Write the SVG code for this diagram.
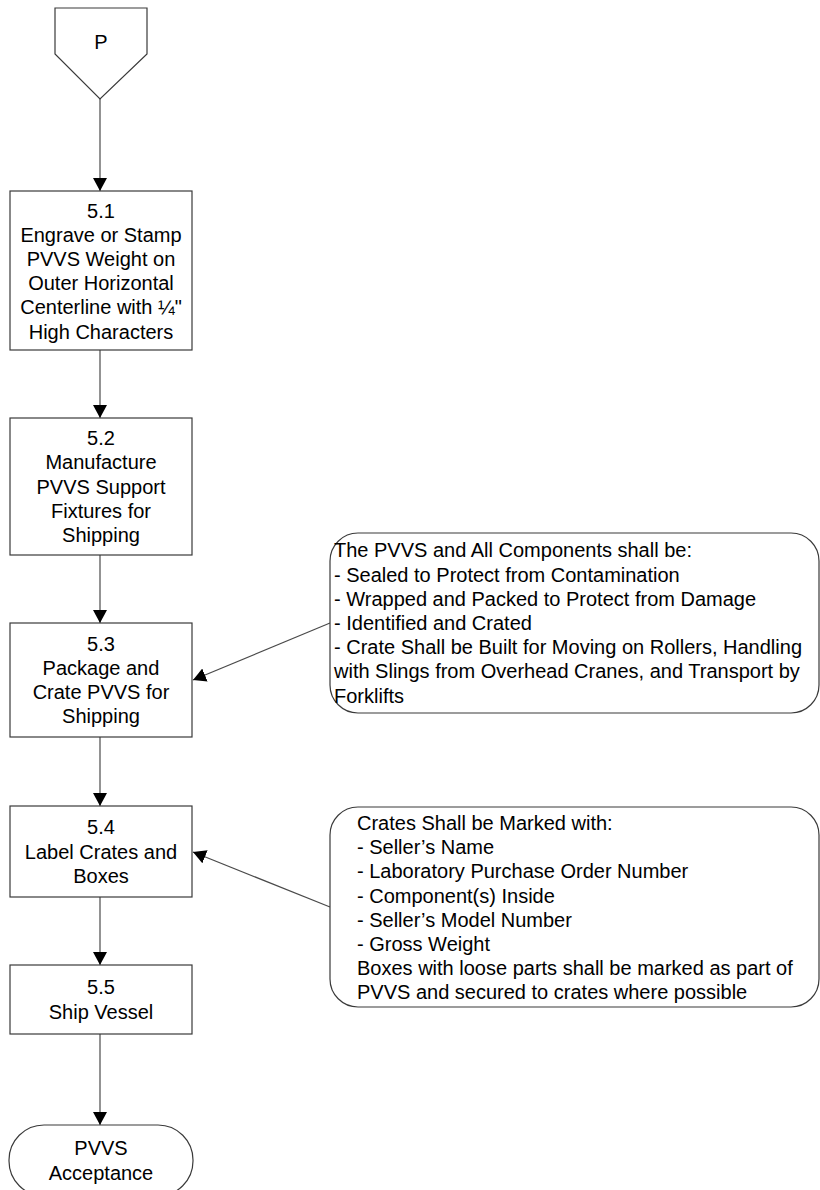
<svg xmlns="http://www.w3.org/2000/svg" width="820" height="1190" viewBox="0 0 820 1190">
<defs>
<style>
.shape{fill:#fff;stroke:#3a3a3a;stroke-width:1.2}
.conn{fill:none;stroke:#4a4a4a;stroke-width:1.2}
.t{font-family:"Liberation Sans",Arial,sans-serif;font-size:20px;fill:#000}
.c{text-anchor:middle}
</style>
<marker id="arr" markerUnits="userSpaceOnUse" markerWidth="14" markerHeight="14" refX="12" refY="6.5" orient="auto" viewBox="0 0 13 13">
<path d="M0,0 L12,6.5 L0,13 z" fill="#000"/>
</marker>
</defs>
<rect width="820" height="1190" fill="#fff"/>
<g id="connectors">
<line class="conn" x1="100" y1="99" x2="100" y2="191" marker-end="url(#arr)"/>
<line class="conn" x1="100" y1="350" x2="100" y2="418" marker-end="url(#arr)"/>
<line class="conn" x1="100" y1="555" x2="100" y2="623" marker-end="url(#arr)"/>
<line class="conn" x1="100" y1="737" x2="100" y2="806" marker-end="url(#arr)"/>
<line class="conn" x1="100" y1="897" x2="100" y2="965" marker-end="url(#arr)"/>
<line class="conn" x1="100" y1="1034" x2="100" y2="1125" marker-end="url(#arr)"/>
<line class="conn" x1="330" y1="623" x2="193" y2="680" marker-end="url(#arr)"/>
<line class="conn" x1="330" y1="907" x2="193" y2="852" marker-end="url(#arr)"/>
</g>
<g id="offpage-P">
<polygon class="shape" points="55,8 147,8 147,54 100,99 55,54"/>
<text class="t c" x="101" y="49">P</text>
</g>
<g id="step-5-1">
<rect class="shape" x="10" y="191" width="182" height="159"/>
<text class="t c" x="101" y="217.5">5.1</text>
<text class="t c" x="101" y="241.7">Engrave or Stamp</text>
<text class="t c" x="101" y="265.9">PVVS Weight on</text>
<text class="t c" x="101" y="290.1">Outer Horizontal</text>
<text class="t c" x="101" y="314.3">Centerline with ¼"</text>
<text class="t c" x="101" y="338.5">High Characters</text>
</g>
<g id="step-5-2">
<rect class="shape" x="10" y="418" width="182" height="137"/>
<text class="t c" x="101" y="445.1">5.2</text>
<text class="t c" x="101" y="469.3">Manufacture</text>
<text class="t c" x="101" y="493.5">PVVS Support</text>
<text class="t c" x="101" y="517.7">Fixtures for</text>
<text class="t c" x="101" y="541.9">Shipping</text>
</g>
<g id="step-5-3">
<rect class="shape" x="10" y="623" width="182" height="114"/>
<text class="t c" x="101" y="650.7">5.3</text>
<text class="t c" x="101" y="674.9">Package and</text>
<text class="t c" x="101" y="699.1">Crate PVVS for</text>
<text class="t c" x="101" y="723.3">Shipping</text>
</g>
<g id="step-5-4">
<rect class="shape" x="10" y="806" width="182" height="91"/>
<text class="t c" x="101" y="834.3">5.4</text>
<text class="t c" x="101" y="858.5">Label Crates and</text>
<text class="t c" x="101" y="882.7">Boxes</text>
</g>
<g id="step-5-5">
<rect class="shape" x="10" y="965" width="182" height="69"/>
<text class="t c" x="101" y="994.4">5.5</text>
<text class="t c" x="101" y="1018.6">Ship Vessel</text>
</g>
<g id="end-acceptance">
<rect class="shape" x="9" y="1125" width="184" height="71" rx="35" ry="35"/>
<text class="t c" x="101" y="1155">PVVS</text>
<text class="t c" x="101" y="1179.5">Acceptance</text>
</g>
<g id="note-packaging">
<rect class="shape" x="330" y="533" width="489" height="180" rx="28" ry="28"/>
<text class="t" x="334" y="557.4">The PVVS and All Components shall be:</text>
<text class="t" x="334" y="581.6">- Sealed to Protect from Contamination</text>
<text class="t" x="334" y="605.8">- Wrapped and Packed to Protect from Damage</text>
<text class="t" x="334" y="630">- Identified and Crated</text>
<text class="t" x="334" y="654.2">- Crate Shall be Built for Moving on Rollers, Handling</text>
<text class="t" x="334" y="678.4">with Slings from Overhead Cranes, and Transport by</text>
<text class="t" x="334" y="702.6">Forklifts</text>
</g>
<g id="note-marking">
<rect class="shape" x="330" y="807" width="489" height="200" rx="28" ry="28"/>
<text class="t" x="357" y="830">Crates Shall be Marked with:</text>
<text class="t" x="357" y="854.2">- Seller’s Name</text>
<text class="t" x="357" y="878.4">- Laboratory Purchase Order Number</text>
<text class="t" x="357" y="902.6">- Component(s) Inside</text>
<text class="t" x="357" y="926.8">- Seller’s Model Number</text>
<text class="t" x="357" y="951">- Gross Weight</text>
<text class="t" x="357" y="975.2">Boxes with loose parts shall be marked as part of</text>
<text class="t" x="357" y="999.4">PVVS and secured to crates where possible</text>
</g>
</svg>
